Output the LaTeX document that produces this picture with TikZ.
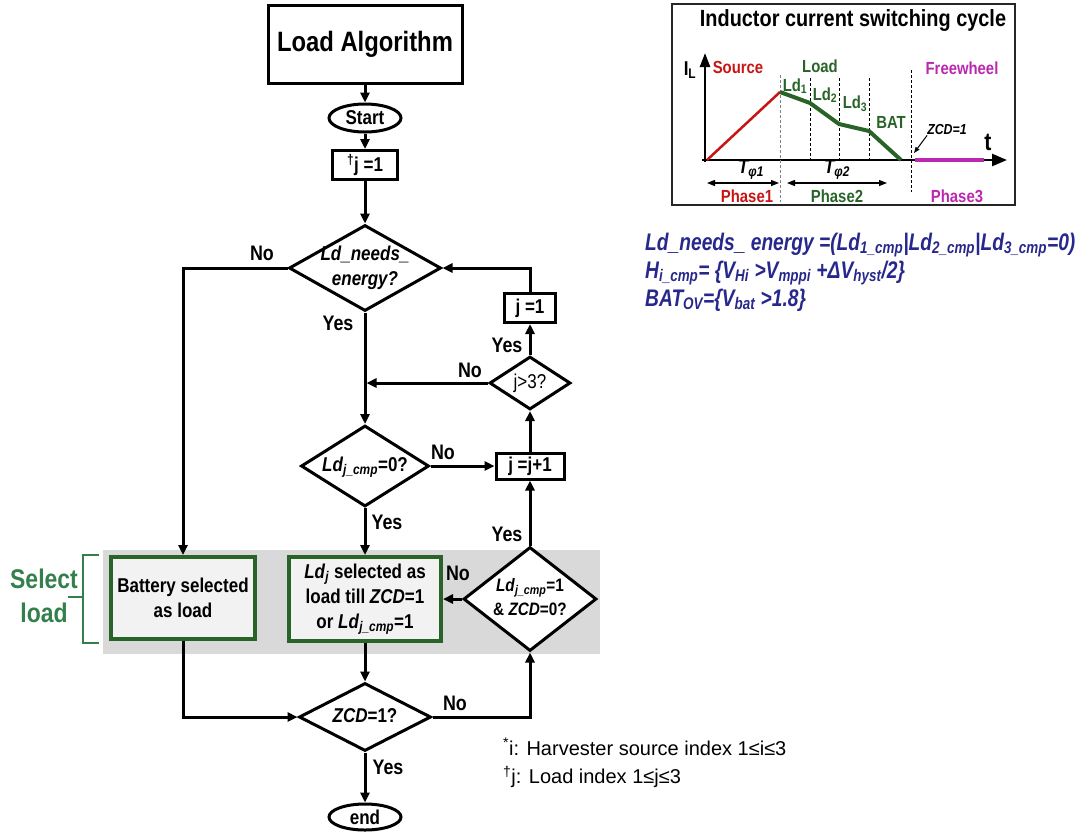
\documentclass[tikz,border=0pt]{standalone}
\usepackage{fontspec}
\setmainfont{Liberation Sans}[FakeStretch=0.85]
\newfontfamily\notefont{Liberation Sans}
\newfontfamily\eqfont{Liberation Sans}[FakeStretch=0.8]
\usetikzlibrary{shapes.geometric,arrows.meta}

\definecolor{selgreen}{RGB}{40,100,40}
\definecolor{bracegreen}{RGB}{50,128,75}
\definecolor{panelgray}{RGB}{217,217,217}
\definecolor{boxfill}{RGB}{242,242,242}
\definecolor{srcred}{RGB}{200,20,20}
\definecolor{fwmag}{RGB}{185,40,175}
\definecolor{eqblue}{RGB}{40,40,140}

% text inside a diamond should not grow the diamond
\newcommand{\dtext}[1]{\makebox[0pt]{\begin{tabular}{@{}c@{}}#1\end{tabular}}}
\newcommand{\ldcmp}{\textit{Ld}\textsubscript{\textit{j\_cmp}}}

\begin{document}
\begin{tikzpicture}[x=1pt, y=-1pt, line join=miter,
    every node/.style={font=\fontsize{20}{25}\selectfont\bfseries, inner sep=0pt},
    proc/.style={draw, line width=3pt},
    term/.style={draw, ellipse, line width=3pt, minimum width=72pt, minimum height=28pt},
    test/.style={draw, diamond, line width=3pt, fill=white},
    selbox/.style={draw=selgreen, line width=4pt, fill=boxfill, align=center},
    flow/.style={line width=3pt, -{Triangle[length=10pt,width=9pt]}},
    yn/.style={font=\fontsize{21}{25}\selectfont\bfseries},
    lbl/.style={font=\fontsize{17.5}{20}\selectfont\bfseries},
    eq/.style={font=\eqfont\fontsize{24}{28}\selectfont\bfseries\itshape, text=eqblue, anchor=west}]
  \useasboundingbox (0,0) rectangle (1087,831);

  % grey band behind the load selection
  \fill[panelgray] (103,550) rectangle (600,654);

  % flow chart
  \node[proc, minimum width=194pt, minimum height=78pt, font=\fontsize{28}{32}\selectfont\bfseries] (alg) at (365,44) {Load Algorithm};
  \node[term] (start) at (365,118) {Start};
  \node[proc, minimum width=65pt, minimum height=29pt] (jinit) at (365,165) {\textsuperscript{†}j =1};
  \node[test, minimum width=152pt, minimum height=86pt, font=\fontsize{20}{25}\selectfont\bfseries\itshape] (needs) at (365,268) {\dtext{Ld\_needs\_\\energy?}};
  \node[proc, minimum width=51pt, minimum height=29pt] (jone) at (530,308) {j =1};
  \node[test, minimum width=81pt, minimum height=53pt, font=\fontsize{20}{25}\selectfont] (jgt) at (530,383) {\dtext{j>3?}};
  \node[test, minimum width=128pt, minimum height=81pt] (cmp0) at (365,466) {\dtext{\ldcmp=0?}};
  \node[proc, minimum width=68pt, minimum height=26pt] (jinc) at (530,466) {j =j+1};
  \node[selbox, minimum width=144pt, minimum height=82pt] (bat) at (183,598) {Battery selected\\as load};
  \node[selbox, minimum width=152pt, minimum height=84pt] (ldsel) at (365,599) {\textit{Ld}\textsubscript{\textit{j}} selected as\\load till \textit{ZCD}=1\\or \ldcmp=1};
  \node[test, minimum width=133pt, minimum height=104pt, font=\fontsize{18}{24}\selectfont\bfseries] (cmp1) at (530,599) {\dtext{\ldcmp=1\\\& \textit{ZCD}=0?}};
  \node[test, minimum width=132pt, minimum height=68pt] (zcd) at (365,717) {\dtext{\textit{ZCD}=1?}};
  \node[term, minimum height=26pt] (fin) at (365,817) {end};

  % branch labels
  \node[yn] (no1) at (262,253) {No};
  \node[yn] (yes1) at (338,323) {Yes};
  \node[yn] (no2) at (470,370) {No};
  \node[yn] (yes2) at (507,345) {Yes};
  \node[yn] (no3) at (443,452) {No};
  \node[yn] (yes3) at (387,522) {Yes};
  \node[yn] (yes4) at (507,534) {Yes};
  \node[yn] (no4) at (458,573) {No};
  \node[yn] (no5) at (455,703) {No};
  \node[yn] (yes5) at (388,767) {Yes};

  \draw[flow] (alg) -- (start);
  \draw[flow] (start) -- (jinit);
  \draw[flow] (jinit) -- (needs);
  \draw[flow] (needs.west) -| (bat.north);
  \draw[flow] (needs) -- (cmp0);
  \draw[flow, shorten >=1.5pt] (jgt.west) -- (jgt.west -| needs.south);
  \draw[flow] (jgt) -- (jone);
  \draw[flow] (jone.north) |- (needs.east);
  \draw[flow] (cmp0.east) -- (jinc.west);
  \draw[flow] (jinc) -- (jgt);
  \draw[flow] (cmp0) -- (ldsel);
  \draw[flow] (cmp1) -- (jinc);
  \draw[flow] (cmp1) -- (ldsel);
  \draw[flow] (bat.south) |- (zcd.west);
  \draw[flow] (ldsel) -- (zcd);
  \draw[flow] (zcd.east) -| (cmp1.south);
  \draw[flow] (zcd) -- (fin);

  % select load bracket
  \draw[bracegreen, line width=2.2pt] (99,555) -- (83,555) -- (83,643) -- (99,643);
  \draw[bracegreen, line width=2.2pt] (83,597) -- (68,597);
  \node[font=\fontsize{27}{34}\selectfont\bfseries, text=bracegreen, align=center] (sel) at (44,596) {Select\\load};

  % index notes
  \node[font=\notefont\fontsize{20}{30}\selectfont, anchor=west] (note1) at (503,747) {\textsuperscript{*}i: Harvester source index 1≤i≤3};
  \node[font=\notefont\fontsize{20}{30}\selectfont, anchor=west] (note2) at (503,777) {\textsuperscript{†}j: Load index 1≤j≤3};

  % switching cycle panel
  \draw[black!85, line width=1.2pt] (672,4) rectangle (1015,205);
  \node[font=\fontsize{23.4}{28}\selectfont\bfseries] (cyc) at (853,20) {Inductor current switching cycle};
  \draw[line width=2.5pt, -{Triangle[length=15pt,width=12pt]}] (702,160) -- (1007,160);
  \draw[line width=2.5pt, -{Triangle[length=14pt,width=10pt]}] (705,162) -- (705,53);
  \node[font=\fontsize{20}{24}\selectfont\bfseries] (il) at (690,70) {I\textsubscript{L}};
  \node[font=\fontsize{25}{28}\selectfont\bfseries] (tt) at (988,142) {t};

  \coordinate (o) at (707,160);
  \coordinate (pk) at (780,92);
  \coordinate (k1) at (810,103);
  \coordinate (k2) at (839,124);
  \coordinate (k3) at (869,131);
  \coordinate (zc) at (901,160);
  \draw[gray, densely dashed, line width=0.8pt] (780,75) -- (780,202);
  \foreach \x in {810,839,869}
    \draw[densely dashed, line width=0.7pt] (\x,78) -- (\x,160);
  \draw[densely dashed, line width=0.8pt] (911,70) -- (911,192);
  \draw[srcred, line width=2.5pt] (o) -- (pk);
  \draw[selgreen, line width=4pt, line join=round] (pk) -- (k1) -- (k2) -- (k3) -- (zc);
  \draw[fwmag, line width=4pt] (915,160) -- (984,160);

  \node[lbl, text=srcred] (src) at (738,67) {Source};
  \node[lbl, text=selgreen] (ld) at (820,66) {Load};
  \node[lbl, text=selgreen] (ld1) at (795,86) {Ld\textsubscript{1}};
  \node[lbl, text=selgreen] (ld2) at (825,95) {Ld\textsubscript{2}};
  \node[lbl, text=selgreen] (ld3) at (855,104) {Ld\textsubscript{3}};
  \node[lbl, text=selgreen] (batl) at (891,122) {BAT};
  \node[lbl, text=fwmag] (fw) at (962,68) {Freewheel};
  \node[font=\fontsize{14.5}{17}\selectfont\bfseries\itshape] (zcdl) at (947,130) {ZCD=1};
  \coordinate (zcdpt) at (914,153);
  \draw[line width=1pt, -{Triangle[length=6pt,width=4.5pt]}] (zcdl.south west) -- (zcdpt);

  \node[font=\fontsize{20}{22}\selectfont\bfseries\itshape] (t1) at (751,170) {T\textsubscript{φ1}};
  \node[font=\fontsize{20}{22}\selectfont\bfseries\itshape] (t2) at (837,170) {T\textsubscript{φ2}};
  \draw[line width=1.3pt, {Triangle[length=8pt,width=6pt]}-{Triangle[length=8pt,width=6pt]}] (707,183) -- (779,183);
  \draw[line width=1.3pt, {Triangle[length=8pt,width=6pt]}-{Triangle[length=8pt,width=6pt]}] (787,183) -- (887,183);
  \node[lbl, text=srcred] (ph1) at (747,196) {Phase1};
  \node[lbl, text=selgreen] (ph2) at (837,196) {Phase2};
  \node[lbl, text=fwmag] (ph3) at (957,196) {Phase3};

  % definitions
  \node[eq] (eq1) at (645,245) {Ld\_needs\_ energy =(Ld\textsubscript{1\_cmp}|Ld\textsubscript{2\_cmp}|Ld\textsubscript{3\_cmp}=0)};
  \node[eq] (eq2) at (645,273) {H\textsubscript{i\_cmp}= \{V\textsubscript{Hi} >V\textsubscript{mppi} +ΔV\textsubscript{hyst}/2\}};
  \node[eq] (eq3) at (645,300) {BAT\textsubscript{OV}=\{V\textsubscript{bat} >1.8\}};
\end{tikzpicture}
\end{document}
